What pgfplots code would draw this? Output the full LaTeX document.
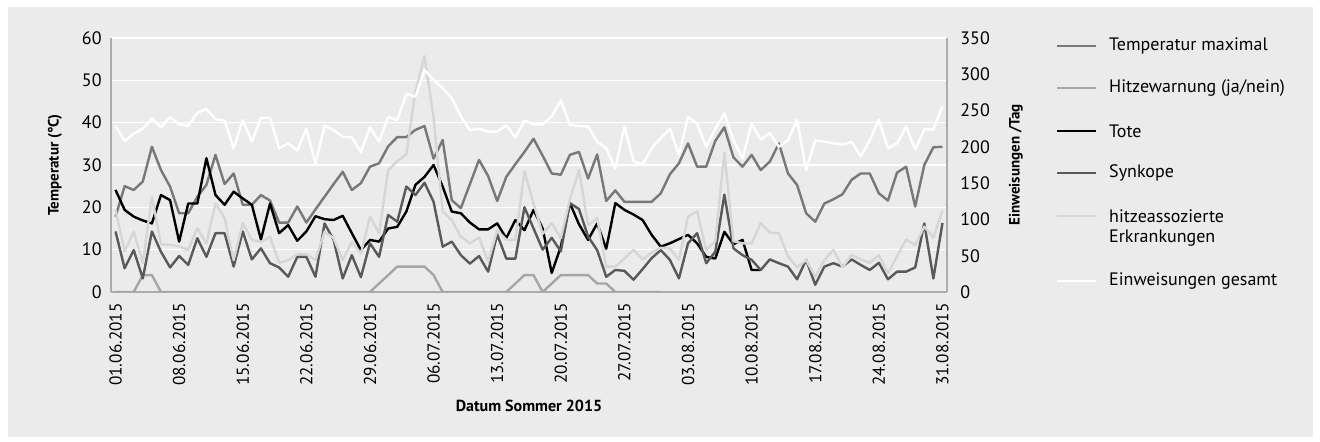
\documentclass[border=0pt]{standalone}
\usepackage{fontspec}
\setmainfont{PT Sans}
\usepackage{pgfplots}
\usepackage{pgfplotstable}
\pgfplotsset{compat=1.18}

\definecolor{bg}{RGB}{235,235,235}
\definecolor{ctemp}{RGB}{120,120,120}
\definecolor{cwarn}{RGB}{166,166,166}
\definecolor{csynk}{RGB}{89,89,89}
\definecolor{chitze}{RGB}{214,214,214}
\definecolor{caxis}{RGB}{172,172,172}

\pgfplotstableread{
i temp warn tote synk hitze einw
0 17.8 0 24.1 14.3 113 229
1 25.0 0 19.4 5.6 56 208
2 24.1 0 17.8 9.9 83 218
3 26.1 4 16.9 3.2 40 225
4 34.3 4 16.2 14.3 131 239
5 28.8 0 22.9 9.5 66 227
6 24.9 0 21.7 5.8 65 241
7 18.6 0 11.9 8.5 63 231
8 18.6 0 20.9 6.4 58 229
9 22.5 0 20.9 12.7 88 247
10 25.3 0 31.6 8.3 67 252
11 32.4 0 22.9 13.9 122 238
12 25.5 0 20.6 13.9 102 236
13 28.0 0 23.7 6.0 44 198
14 20.6 0 22.1 14.3 95 237
15 20.6 0 20.6 7.7 72 207
16 22.9 0 12.4 10.3 69 240
17 21.6 0 20.9 6.8 76 240
18 16.4 0 13.9 5.8 40 198
19 16.4 0 15.8 3.6 44 205
20 20.2 0 12.1 8.3 52 195
21 16.4 0 14.3 8.3 52 225
22 19.5 0 17.9 3.6 44 177
23 22.5 0 17.2 16.2 83 229
24 25.5 0 17.0 12.3 74 223
25 28.4 0 18.0 3.2 44 214
26 24.1 0 13.9 8.7 69 213
27 25.7 0 9.9 3.5 53 193
28 29.6 0 12.3 11.5 104 227
29 30.4 2 11.9 8.3 81 207
30 34.4 4 15.0 18.2 168 241
31 36.6 6 15.4 16.6 180 237
32 36.6 6 19.0 24.9 190 273
33 38.3 6 25.3 22.9 276 269
34 39.2 6 27.2 25.8 325 306
35 31.5 4 30.0 21.3 240 292
36 35.9 0 24.9 10.7 111 281
37 21.7 0 19.0 11.9 99 267
38 19.8 0 18.6 8.7 76 242
39 25.5 0 16.4 6.7 67 223
40 31.2 0 14.8 8.5 75 225
41 27.4 0 14.8 4.8 42 221
42 21.5 0 16.2 13.6 85 221
43 27.2 0 12.7 7.9 72 230
44 30.2 2 17.0 7.9 72 213
45 33.1 4 14.6 20.0 166 236
46 36.2 4 19.4 15.0 122 231
47 32.2 0 15.0 10.0 80 231
48 28.0 2 4.5 12.8 95 242
49 27.7 4 10.7 9.6 74 264
50 32.4 4 21.0 21.0 128 230
51 33.1 4 16.0 19.6 168 229
52 26.8 4 12.3 13.1 92 228
53 32.5 2 16.2 9.9 102 207
54 21.5 2 10.2 3.6 35 198
55 24.0 0 21.0 5.2 35 170
56 21.3 0 19.4 5.0 46 228
57 21.3 0 18.3 2.9 58 180
58 21.3 0 17.0 5.4 45 176
59 21.3 0 13.5 8.0 54 198
60 23.3 0 10.7 9.9 61 212
61 27.8 nan 11.5 7.6 60 225
62 30.4 nan 12.5 3.2 44 189
63 35.1 nan 13.5 11.5 104 241
64 29.6 nan 11.5 13.9 111 232
65 29.6 nan 8.3 6.8 58 200
66 35.7 nan 7.9 9.5 70 225
67 38.9 nan 14.2 23.0 192 246
68 31.8 nan 11.3 10.3 70 209
69 29.6 nan 12.3 8.7 67 184
70 32.4 nan 5.2 7.6 67 232
71 28.8 nan 5.2 5.2 95 210
72 30.8 nan nan 7.7 82 219
73 35.1 nan nan 6.8 81 200
74 28.0 nan nan 6.0 49 209
75 25.3 nan nan 3.0 34 237
76 18.6 nan nan 7.6 44 168
77 16.6 nan nan 1.7 21 209
78 20.9 nan nan 6.0 44 207
79 21.9 nan nan 6.8 58 205
80 23.1 nan nan 6.0 34 203
81 26.5 nan nan 7.7 51 207
82 28.0 nan nan 6.4 45 187
83 28.0 nan nan 5.2 40 209
84 23.3 nan nan 6.9 51 237
85 21.6 nan nan 3.0 26 198
86 28.2 nan nan 4.8 49 205
87 29.6 nan nan 4.8 72 228
88 20.2 nan nan 5.8 65 196
89 30.0 nan nan 16.2 90 224
90 34.2 nan nan 3.2 75 224
91 34.3 nan nan 16.3 112 256
}\datatable

\newcommand{\tickfont}{\fontsize{9}{10}\selectfont}
\newcommand{\datefont}{\fontsize{8.6}{10}\selectfont}
\newcommand{\titlefont}{\bfseries\fontsize{7.5}{9}\selectfont}

\pgfplotsset{
  myax/.style={
    at={(55.5pt,75pt)}, anchor=south west, scale only axis,
    width=418pt, height=127pt,
    xmin=-0.5, xmax=91.5,
    major tick length=0pt,
    axis line style={draw=caxis, line width=1pt, -},
    tick label style={font=\tickfont, inner sep=0pt},
    /pgf/number format/assume math mode=true,
    every axis plot/.append style={line width=1.2pt, line join=round, mark=none},
    unbounded coords=jump,
  }
}

\begin{document}
\begin{tikzpicture}
\useasboundingbox (0,0) rectangle (660pt,221pt);
\fill[white] (0,0) rectangle (660pt,221pt);
\fill[bg] (4pt,2.5pt) rectangle (656.5pt,217.5pt);

\begin{axis}[myax,
  ymin=0, ymax=60, ytick={0,10,...,60},
  axis x line*=bottom, axis y line*=left,
  ymajorgrids, grid style={white, line width=0.8pt},
  xtick={0,7,...,91},
  xticklabels={01.06.2015,08.06.2015,15.06.2015,22.06.2015,29.06.2015,06.07.2015,13.07.2015,20.07.2015,27.07.2015,03.08.2015,10.08.2015,17.08.2015,24.08.2015,31.08.2015},
  xticklabel style={rotate=90, anchor=east, font=\datefont},
  xticklabel shift=5.5pt,
  yticklabel shift=4.5pt,
  ylabel={Temperatur (°C)},
  every axis y label/.style={at={(axis description cs:-0.067,0.5)}, rotate=90, anchor=center, font=\titlefont},
  xlabel={Datum Sommer 2015},
  every axis x label/.style={at={(axis description cs:0.5,-0.45)}, anchor=center, font=\bfseries\fontsize{8}{9}\selectfont},
]
\addplot[ctemp] table[x=i, y=temp] {\datatable};
\addplot[cwarn] table[x=i, y=warn] {\datatable};
\addplot[black] table[x=i, y=tote] {\datatable};
\addplot[csynk] table[x=i, y=synk] {\datatable};
\end{axis}

\begin{axis}[myax,
  ymin=0, ymax=350, ytick={0,50,...,350},
  axis x line=none, axis y line*=right,
  yticklabel shift=6.5pt,
  ylabel={Einweisungen /Tag},
  every axis y label/.style={at={(axis description cs:1.0825,0.5)}, rotate=90, anchor=center, font=\titlefont},
]
\addplot[chitze] table[x=i, y=hitze] {\datatable};
\addplot[white] table[x=i, y=einw] {\datatable};
\end{axis}

% legend
\begin{scope}[line width=1.2pt]
\draw[ctemp] (528.5pt,198pt) -- (548pt,198pt);
\node[anchor=west, inner sep=0pt, font=\tickfont] at (554pt,198pt) {Temperatur maximal};
\draw[cwarn] (528.5pt,177pt) -- (548pt,177pt);
\node[anchor=west, inner sep=0pt, font=\tickfont] at (554pt,177pt) {Hitzewarnung (ja/nein)};
\draw[black] (528.5pt,155.5pt) -- (548pt,155.5pt);
\node[anchor=west, inner sep=0pt, font=\tickfont] at (554pt,155.5pt) {Tote};
\draw[csynk] (528.5pt,134.5pt) -- (548pt,134.5pt);
\node[anchor=west, inner sep=0pt, font=\tickfont] at (554pt,134.5pt) {Synkope};
\draw[chitze] (528.5pt,113pt) -- (548pt,113pt);
\node[anchor=west, inner sep=0pt, font=\tickfont] at (554pt,113pt) {hitzeassozierte};
\node[anchor=west, inner sep=0pt, font=\tickfont] at (554pt,102pt) {Erkrankungen};
\draw[white] (528.5pt,80.5pt) -- (548pt,80.5pt);
\node[anchor=west, inner sep=0pt, font=\tickfont] at (554pt,80.5pt) {Einweisungen gesamt};
\end{scope}
\end{tikzpicture}
\end{document}
